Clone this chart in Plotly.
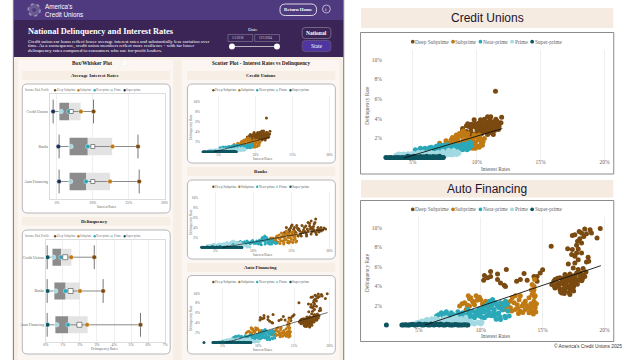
import plotly.graph_objects as go

# ---------- data ----------
CATEGORIES = ["Credit Unions", "Banks", "Auto Financing"]
TIERS = ["Deep Subprime", "Subprime", "Near-prime", "Prime", "Super-prime"]

RATE_DEEP = [10.1, 16.3, 16.47]
RATE_SUB = [8.33, 12.75, 12.4]
RATE_NEAR = [6.67, 9.3, 9.06]
RATE_PRIME = [5.57, 6.95, 6.9]
RATE_SUPER = [4.47, 5.2, 5.3]
RATE_Q1 = [5.34, 6.76, 6.76]
RATE_MED = [6.7, 9.3, 9.06]
RATE_Q3 = [8.3, 12.7, 12.4]
RATE_MEAN = [7.0, 10.0, 10.0]
RATE_LOW = [4.47, 5.3, 5.3]
RATE_HIGH = [10.1, 16.3, 16.47]

DELQ_DEEP = [2.84, 3.36, 5.55]
DELQ_SUB = [1.49, 2.0, 2.42]
DELQ_NEAR = [0.89, 1.16, 1.3]
DELQ_PRIME = [0.45, 0.58, 0.64]
DELQ_SUPER = [0.1, 0.1, 0.1]
DELQ_Q1 = [0.39, 0.5, 0.56]
DELQ_MED = [0.9, 1.16, 1.3]
DELQ_Q3 = [1.5, 2.0, 2.45]
DELQ_MEAN = [1.14, 1.45, 1.97]
DELQ_LOW = [0.08, 0.08, 0.08]
DELQ_HIGH = [2.84, 3.36, 5.55]

CU_DEEP_X = [8.9, 9.3, 9.8, 10.3, 10.85, 11.1, 11.95, 11.5, 11.9, 11.75, 11.4, 11.3, 10.85, 10.6, 10.1, 9.55, 9.2, 8.9, 9.4, 9.8, 10.2, 10.5, 10.7, 11.0, 11.2, 11.5, 11.35, 10.6, 10.15, 9.55, 9.2, 11.0, 10.6, 10.0, 11.1, 10.35, 11.7, 11.47,
             9.0, 9.35, 9.6, 9.9, 10.2, 10.4, 10.55, 10.8, 11.05, 11.3, 11.55, 11.7, 9.7, 10.0, 10.3, 10.7, 10.95, 11.25, 11.6, 9.95, 10.45, 10.9, 11.2, 9.5, 10.75]
CU_DEEP_Y = [3.0, 3.5, 3.9, 3.7, 4.2, 4.2, 4.15, 3.95, 3.6, 3.2, 2.8, 2.4, 2.4, 2.7, 2.7, 2.7, 2.7, 2.8, 3.2, 3.2, 3.3, 3.4, 3.55, 3.55, 3.4, 3.2, 3.7, 3.95, 3.55, 3.05, 3.3, 3.05, 3.05, 2.95, 2.7, 2.95, 3.6, 6.8,
             2.45, 2.3, 3.45, 3.5, 3.0, 2.5, 3.2, 3.2, 3.85, 3.0, 3.45, 2.9, 2.4, 3.4, 3.9, 3.75, 3.35, 3.15, 3.75, 2.5, 2.75, 2.7, 2.55, 2.35, 2.95]
CU_SUB_X = [7.1, 7.4, 7.25, 8.0, 7.75, 8.4, 8.5, 8.8, 8.9, 9.3, 9.45, 9.7, 10.1, 10.35, 10.6, 10.1, 9.7, 9.45, 9.0, 8.65, 9.8, 10.2, 9.3, 8.3, 8.0, 7.5, 9.2, 9.8, 8.5,
            7.9, 8.2, 8.6, 8.9, 9.1, 9.35, 9.6, 9.9, 10.2, 10.45, 8.1, 8.75, 9.55, 10.0, 10.3, 7.6, 8.45, 9.05, 9.75, 10.5, 8.95, 9.25, 9.9, 7.3, 8.25]
CU_SUB_Y = [1.5, 0.85, 1.3, 1.85, 1.5, 2.35, 1.85, 2.2, 1.7, 1.5, 1.0, 1.0, 1.2, 1.5, 2.0, 1.85, 1.7, 2.0, 2.35, 2.5, 2.35, 2.35, 2.5, 1.7, 1.45, 1.35, 1.2, 1.35, 1.35,
            1.3, 1.1, 1.55, 1.3, 1.9, 1.85, 1.4, 1.6, 1.1, 1.3, 2.1, 1.0, 1.1, 2.2, 2.0, 1.75, 2.15, 2.55, 2.1, 1.65, 2.75, 2.2, 1.0, 1.15, 2.0]
CU_NEAR_X = [5.2, 5.55, 5.95, 6.45, 6.85, 7.25, 7.6, 8.0, 8.4, 8.8, 9.2, 9.5, 9.3, 8.9, 8.5, 8.15, 6.2, 6.7, 7.1, 7.6, 8.25,
             5.4, 5.75, 6.1, 6.3, 6.6, 6.95, 7.05, 7.4, 7.7, 7.85, 8.1, 8.3, 8.55, 8.7, 9.0, 9.1, 9.4, 9.55, 9.25, 8.95, 8.65, 7.95, 7.45, 6.75, 6.05, 5.6, 9.45, 9.6, 8.85, 7.15]
CU_NEAR_Y = [0.85, 0.9, 1.0, 1.1, 1.2, 1.2, 1.0, 1.1, 1.1, 1.2, 1.45, 1.6, 1.0, 0.85, 0.85, 0.8, 0.85, 0.9, 0.85, 1.25, 1.35,
             0.75, 0.85, 0.9, 1.05, 1.0, 1.05, 1.3, 1.3, 1.35, 1.1, 0.95, 1.25, 1.15, 1.3, 1.0, 1.3, 1.2, 1.45, 0.85, 1.4, 1.0, 0.9, 0.9, 1.05, 0.8, 1.0, 1.05, 1.25, 1.1, 1.0]
CU_PRIME_X = [3.9, 4.3, 4.65, 5.05, 5.45, 5.8, 6.2, 6.6, 7.0, 7.35, 7.75, 8.15, 8.5, 8.3, 7.9, 7.35, 6.85, 6.35, 5.7, 5.05,
              4.1, 4.5, 4.85, 5.25, 5.6, 6.0, 6.4, 6.8, 7.2, 7.55, 7.95, 8.35, 8.6, 4.4, 4.95, 5.4, 5.95, 6.55, 7.1, 7.6, 8.1, 8.45, 3.7, 8.2, 7.8]
CU_PRIME_Y = [0.4, 0.4, 0.44, 0.5, 0.6, 0.6, 0.57, 0.5, 0.57, 0.68, 0.68, 0.68, 0.64, 0.44, 0.34, 0.34, 0.34, 0.3, 0.3, 0.27,
              0.35, 0.36, 0.4, 0.42, 0.45, 0.45, 0.44, 0.42, 0.45, 0.5, 0.5, 0.55, 0.5, 0.25, 0.25, 0.25, 0.28, 0.27, 0.25, 0.28, 0.3, 0.35, 0.32, 0.8, 0.8]
CU_SUPER_X = [2.9, 3.1, 3.3, 3.55, 3.8, 4.0, 4.25, 4.5, 4.75, 4.95, 5.2, 5.45, 5.7, 5.95, 6.2, 6.45, 6.7, 6.95, 7.2, 7.4, 4.6, 5.1, 5.6, 6.1, 6.6, 7.1,
              3.0, 3.2, 3.45, 3.65, 3.9, 4.15, 4.35, 4.6, 4.85, 5.05, 5.3, 5.55, 5.8, 6.05, 6.3, 6.55, 6.8, 7.05, 7.3, 4.85, 5.35, 5.85, 6.35, 6.85]
CU_SUPER_Y = [0.05, 0.03, 0.05, 0.03, 0.05, 0.03, 0.05, 0.03, 0.03, 0.05, 0.03, 0.05, 0.05, 0.03, 0.05, 0.03, 0.05, 0.03, 0.05, 0.05, 0.17, 0.17, 0.15, 0.17, 0.15, 0.17,
              0.0, 0.02, 0.0, 0.02, 0.0, 0.02, 0.0, 0.0, 0.02, 0.0, 0.02, 0.0, 0.0, 0.02, 0.0, 0.02, 0.0, 0.0, 0.02, 0.12, 0.12, 0.13, 0.12, 0.13]
CU_TREND_X = [4.3, 12.0]
CU_TREND_Y = [0.0, 3.0]

BANK_DEEP_X = [19.5, 18.9, 18.2, 17.6, 17.2, 18.0, 17.4, 16.7, 16.1, 18.5, 17.8, 17.2, 16.5, 15.9, 15.0, 14.35, 15.4, 14.8, 14.1, 15.4, 16.3, 18.2, 17.6, 17.0, 18.9, 15.7, 14.7, 15.9, 16.8, 17.9, 16.2, 14.5,
               14.6, 15.1, 15.6, 16.0, 16.4, 16.9, 17.4, 17.9, 18.4, 18.7, 15.3, 15.8, 16.6, 17.1, 17.7, 18.3, 14.9, 15.5, 16.2, 16.9, 17.5, 18.0, 18.6, 19.1, 19.3, 17.0, 17.6, 18.1, 16.4, 15.1]
BANK_DEEP_Y = [3.7, 3.3, 5.7, 5.3, 5.0, 4.7, 4.3, 4.0, 3.3, 4.0, 3.7, 3.3, 3.0, 2.3, 4.3, 4.0, 4.0, 3.3, 3.0, 3.3, 2.3, 3.0, 2.7, 2.3, 4.0, 4.4, 3.6, 3.6, 3.2, 3.3, 2.7, 2.6,
               2.9, 2.7, 3.0, 3.7, 4.4, 4.3, 4.8, 4.2, 3.5, 3.6, 3.6, 3.9, 3.5, 3.7, 3.2, 2.6, 3.9, 2.9, 2.6, 2.9, 3.7, 3.5, 3.1, 3.5, 3.9, 2.6, 4.0, 5.0, 3.0, 4.5]
BANK_SUB_X = [13.0, 13.5, 14.1, 14.8, 15.2, 15.7, 14.6, 14.0, 13.0, 12.6, 12.2, 14.35, 15.0, 15.6, 15.2, 13.9, 14.6, 15.0, 13.7, 13.4, 14.3, 15.5, 12.9,
              12.0, 12.4, 12.8, 13.2, 13.6, 13.9, 14.2, 14.5, 14.9, 15.3, 15.6, 15.4, 14.1, 13.3, 12.7, 13.1, 13.7, 14.4, 14.8, 15.1, 12.3, 13.5, 14.0, 14.7, 15.5, 13.8, 14.25, 14.55, 15.25, 12.95]
BANK_SUB_Y = [2.0, 1.7, 2.3, 2.0, 1.0, 1.3, 1.3, 1.0, 1.3, 1.9, 1.7, 3.3, 3.0, 2.7, 2.3, 2.7, 2.7, 1.7, 2.1, 2.5, 1.6, 1.8, 1.6,
              1.4, 1.1, 1.0, 1.1, 1.3, 1.35, 1.5, 1.0, 1.2, 1.5, 1.1, 2.1, 1.9, 1.9, 1.4, 2.3, 2.9, 3.0, 2.4, 2.5, 1.9, 0.8, 0.7, 0.9, 2.3, 2.2, 2.6, 2.0, 3.2, 1.0]
BANK_NEAR_X = [7.4, 8.3, 9.15, 9.8, 10.45, 11.1, 11.5, 11.75, 12.2, 12.8, 12.4, 11.55, 10.7, 9.9, 10.9, 11.9, 12.5, 8.8,
               7.0, 7.7, 7.95, 8.6, 8.85, 9.4, 9.6, 10.1, 10.3, 10.6, 10.8, 11.0, 11.3, 11.4, 11.65, 11.85, 12.05, 12.35, 12.6, 12.95, 13.1, 11.2, 10.95, 10.45, 10.15, 9.7, 9.3, 8.45, 8.0, 11.55, 11.95, 12.15, 11.05, 10.6, 9.05]
BANK_NEAR_Y = [0.7, 1.2, 1.3, 1.0, 1.3, 1.7, 2.3, 2.0, 1.3, 1.0, 0.7, 0.7, 0.7, 1.4, 1.1, 1.0, 1.5, 0.9,
               0.6, 0.85, 1.0, 1.0, 1.15, 0.95, 0.75, 1.05, 0.9, 0.95, 1.45, 1.25, 1.35, 1.9, 1.55, 1.65, 1.55, 1.0, 1.15, 0.8, 0.9, 2.0, 0.75, 0.85, 0.8, 1.15, 1.1, 0.8, 0.75, 1.2, 0.85, 0.7, 0.55, 1.15, 0.7]
BANK_PRIME_X = [4.8, 5.7, 6.55, 7.4, 8.3, 8.95, 9.4, 8.1, 7.0, 5.9, 4.8, 3.95, 6.2, 7.7, 8.7,
                4.2, 4.5, 5.0, 5.3, 5.5, 6.0, 6.3, 6.7, 7.0, 7.2, 7.6, 7.9, 8.1, 8.5, 8.8, 9.1, 9.55, 4.1, 4.6, 5.2, 5.7, 6.5, 7.3, 7.85, 8.45, 9.25, 7.55, 6.9, 8.2, 5.0]
BANK_PRIME_Y = [0.65, 0.65, 1.0, 1.3, 1.0, 0.33, 0.2, 0.2, 0.33, 0.2, 0.2, 0.33, 0.4, 0.6, 0.6,
                0.4, 0.5, 0.5, 0.55, 0.7, 0.75, 0.8, 0.7, 1.0, 1.15, 1.05, 0.95, 0.7, 0.7, 0.5, 0.3, 0.12, 0.15, 0.2, 0.15, 0.15, 0.15, 0.2, 0.15, 0.2, 0.1, 0.3, 0.5, 0.4, 0.3]
BANK_SUPER_X = [3.2, 3.45, 3.7, 3.95, 4.2, 4.45, 4.7, 4.95, 5.2, 5.45, 5.7, 5.95, 6.2, 6.45, 6.7, 6.95, 7.2, 7.45, 7.7, 7.95, 8.2, 8.45,
                3.3, 3.55, 3.8, 4.05, 4.3, 4.55, 4.8, 5.05, 5.3, 5.55, 5.8, 6.05, 6.3, 6.55, 6.8, 7.05, 7.3, 7.55, 7.8, 8.05, 8.3, 8.5, 4.6, 5.6, 6.6]
BANK_SUPER_Y = [0.05, 0.03, 0.05, 0.08, 0.05, 0.03, 0.08, 0.05, 0.1, 0.05, 0.08, 0.03, 0.05, 0.1, 0.05, 0.08, 0.03, 0.05, 0.08, 0.05, 0.03, 0.05,
                0.0, 0.02, 0.0, 0.0, 0.02, 0.0, 0.0, 0.02, 0.0, 0.0, 0.02, 0.0, 0.0, 0.02, 0.0, 0.0, 0.02, 0.0, 0.0, 0.02, 0.0, 0.0, 0.15, 0.15, 0.15]
BANK_TREND_X = [6.0, 19.3]
BANK_TREND_Y = [0.0, 3.6]

AUTO_DEEP_X = [19.65, 18.83, 18.4, 17.95, 17.6, 17.4, 18.14, 18.54, 18.94, 19.39, 18.32, 18.0, 17.82, 18.14, 17.74, 17.87, 17.4, 17.02, 15.69, 17.6, 18.14, 18.67, 18.54, 17.87, 17.6, 17.07, 17.47, 17.87, 18.27, 18.72, 17.74, 17.34,
               15.74, 16.0, 16.4, 16.8, 17.2, 17.6, 18.1, 18.5, 16.0, 16.4, 16.8, 17.2, 17.5, 17.07, 16.7, 16.3, 17.35, 16.95, 17.7, 18.0, 17.5, 17.2, 16.55, 17.07, 18.3,
               10.3, 10.24, 10.56, 10.8, 10.8, 11.36, 11.36, 11.6, 11.9, 12.0, 12.07, 12.9, 13.2, 13.5, 13.75, 14.3, 14.55, 14.8, 15.0, 14.55,
               15.9, 16.15, 16.3, 16.55, 16.7, 16.9, 17.1, 17.3, 17.45, 17.6, 17.8, 17.95, 18.2, 18.4, 16.2, 16.45, 16.65, 16.9, 17.15, 17.35, 17.55, 17.05, 16.85, 16.6, 17.25, 17.4, 17.75, 18.15, 15.95, 16.75]
AUTO_DEEP_Y = [9.93, 9.8, 9.86, 9.6, 9.28, 9.2, 9.45, 9.39, 9.45, 8.94, 9.11, 8.87, 8.6, 8.43, 8.19, 7.82, 7.75, 7.85, 8.09, 7.06, 7.41, 6.96, 6.48, 6.72, 6.38, 6.28, 5.87, 5.7, 5.8, 6.55, 7.4, 7.24,
               4.16, 4.68, 4.85, 5.2, 5.25, 5.1, 5.35, 5.46, 3.82, 3.65, 3.5, 3.14, 3.5, 4.0, 4.16, 4.33, 4.5, 4.68, 4.68, 5.0, 4.0, 3.65, 3.3, 4.85, 5.1,
               5.1, 4.6, 4.85, 5.5, 5.0, 5.25, 4.68, 4.33, 4.1, 3.96, 5.7, 4.5, 4.68, 5.3, 4.6, 5.0, 5.0, 5.35, 5.67, 4.5,
               4.5, 4.15, 3.95, 4.3, 4.8, 4.35, 4.55, 4.2, 3.8, 4.3, 4.2, 4.6, 4.7, 5.0, 4.8, 3.4, 3.7, 3.85, 3.35, 3.75, 4.75, 5.0, 3.9, 4.55, 4.85, 5.05, 5.35, 4.55, 4.0, 3.25]
AUTO_SUB_X = [8.3, 8.7, 9.0, 9.2, 9.63, 10.0, 10.4, 9.1, 9.5, 9.9, 8.83, 12.0, 12.4, 12.55, 12.8, 13.2, 12.95, 13.35, 13.6, 13.9, 14.15, 14.4, 14.3, 13.9, 14.15, 14.3, 14.15, 14.35, 12.8, 13.2, 14.4, 13.6, 12.4, 11.6, 9.35, 10.2,
              8.5, 9.1, 9.4, 9.7, 9.9, 10.15, 8.9, 12.2, 12.5, 12.7, 13.0, 13.1, 13.45, 13.7, 13.8, 14.0, 14.25, 14.45, 14.2, 14.05, 14.35, 14.5, 13.4, 13.05, 12.15, 11.8, 10.6, 14.25, 14.3, 14.1]
AUTO_SUB_Y = [1.95, 2.3, 3.0, 2.8, 3.0, 2.6, 2.46, 1.95, 2.1, 1.6, 1.6, 1.6, 1.77, 2.8, 3.0, 3.0, 2.1, 1.95, 1.6, 1.26, 1.43, 1.77, 2.46, 2.8, 3.14, 3.65, 4.16, 4.68, 1.6, 1.43, 3.0, 2.46, 2.46, 1.95, 2.45, 2.1,
              2.2, 2.7, 2.35, 2.55, 2.85, 2.2, 2.05, 2.0, 1.45, 2.3, 1.75, 2.6, 2.2, 2.0, 1.75, 1.7, 1.15, 1.35, 2.0, 2.2, 2.9, 2.2, 1.3, 1.2, 2.35, 2.2, 2.0, 3.4, 4.0, 3.6]
AUTO_NEAR_X = [6.44, 6.83, 7.23, 7.63, 8.16, 8.56, 8.96, 9.36, 9.76, 10.16, 10.7, 10.96, 11.2, 11.6, 12.0, 11.9, 11.5, 11.1, 10.7, 10.3, 9.9, 9.5, 11.1, 11.6, 12.0, 12.3, 7.9, 7.37, 10.4, 6.97, 8.96,
               6.6, 7.0, 7.5, 7.8, 8.3, 8.7, 9.1, 9.2, 9.55, 9.9, 10.05, 10.3, 10.55, 10.8, 10.95, 11.05, 11.35, 11.45, 11.75, 11.85, 12.15, 12.2, 11.3, 10.5, 10.1, 9.65, 9.3, 8.75, 8.35, 7.7, 10.85, 11.55, 11.95, 10.2, 9.0, 10.6, 11.25, 9.85, 8.1, 7.2]
AUTO_NEAR_Y = [0.92, 1.26, 1.37, 1.26, 1.37, 1.26, 1.1, 1.43, 1.26, 1.6, 2.46, 2.63, 2.3, 2.3, 2.46, 1.95, 1.77, 1.6, 1.26, 0.75, 0.92, 0.75, 0.92, 0.58, 0.75, 0.92, 0.92, 0.75, 1.95, 0.92, 1.6,
               1.05, 1.15, 1.05, 1.05, 1.15, 1.05, 1.3, 0.9, 1.0, 1.05, 1.3, 1.35, 1.55, 1.75, 2.1, 1.35, 1.95, 1.25, 1.55, 2.1, 2.15, 1.45, 1.1, 0.95, 0.8, 1.4, 0.85, 0.8, 0.9, 0.8, 0.95, 0.85, 0.9, 1.85, 0.75, 2.2, 0.6, 1.65, 1.0, 1.0]
AUTO_PRIME_X = [4.84, 5.24, 5.64, 6.04, 6.44, 6.83, 7.23, 7.63, 8.03, 8.43, 8.83, 9.23, 9.63, 10.03, 8.96, 8.3, 7.5, 6.7, 5.9, 5.37,
                5.0, 5.5, 5.8, 6.2, 6.6, 7.0, 7.4, 7.8, 8.15, 8.6, 9.05, 9.4, 9.8, 4.7, 5.1, 6.1, 6.9, 7.2, 7.75, 8.1, 8.65, 9.1, 9.5, 9.9, 6.35, 5.7, 7.05, 7.95, 8.8, 10.1]
AUTO_PRIME_Y = [0.24, 0.41, 0.58, 0.65, 0.5, 0.41, 0.75, 0.58, 0.82, 0.68, 0.58, 0.41, 0.24, 0.14, 0.24, 0.24, 0.24, 0.24, 0.24, 0.14,
                0.3, 0.45, 0.4, 0.4, 0.55, 0.55, 0.5, 0.7, 0.55, 0.5, 0.4, 0.2, 0.3, 0.12, 0.12, 0.12, 0.12, 0.35, 0.35, 0.4, 0.35, 0.15, 0.12, 0.2, 0.7, 0.55, 0.7, 0.6, 0.8, 0.3]
AUTO_SUPER_X = [2.39, 3.64, 3.9, 4.15, 4.4, 4.65, 4.9, 5.15, 5.4, 5.65, 5.9, 6.15, 6.4, 6.65, 6.9, 7.15, 7.4, 7.65, 7.9, 8.15, 8.4, 8.7, 8.96,
                3.75, 4.0, 4.25, 4.5, 4.75, 5.0, 5.25, 5.5, 5.75, 6.0, 6.25, 6.5, 6.75, 7.0, 7.25, 7.5, 7.75, 8.0, 8.25, 8.55, 8.85]
AUTO_SUPER_Y = [0.0, 0.0, 0.03, 0.0, 0.05, 0.0, 0.03, 0.08, 0.0, 0.05, 0.0, 0.03, 0.05, 0.0, 0.03, 0.0, 0.05, 0.0, 0.03, 0.0, 0.0, 0.03, 0.0,
                0.02, 0.0, 0.02, 0.08, 0.02, 0.1, 0.02, 0.08, 0.02, 0.1, 0.02, 0.08, 0.1, 0.02, 0.08, 0.02, 0.02, 0.05, 0.02, 0.02, 0.02]
AUTO_TREND_X = [5.5, 19.7]
AUTO_TREND_Y = [0.0, 6.1]

# ---------- styles ----------
W, H = 640, 360
C_DEEP, C_SUB, C_NEAR, C_PRIME, C_SUPER = "#7a4a10", "#c07a14", "#2aa8b8", "#a2d9e2", "#0c5561"
C_NAVY = "#1b2f56"
CREAM, PALE = "#f7eee6", "#fbf6f1"
SERIF, SANS = "Liberation Serif", "Liberation Sans"
COLORS = [C_DEEP, C_SUB, C_NEAR, C_PRIME, C_SUPER]

fig = go.Figure()
shapes, annots = [], []
px = lambda x: x / W
py = lambda y: 1 - y / H


def rect(x0, y0, x1, y1, fill, line=None, lw=1, r=0):
    if r:
        X0, X1, Y0, Y1 = px(x0), px(x1), py(y0), py(y1)
        rx, ry = r / W, r / H
        path = (f"M{X0+rx},{Y0} L{X1-rx},{Y0} Q{X1},{Y0} {X1},{Y0-ry} L{X1},{Y1+ry} Q{X1},{Y1} {X1-rx},{Y1} "
                f"L{X0+rx},{Y1} Q{X0},{Y1} {X0},{Y1+ry} L{X0},{Y0-ry} Q{X0},{Y0} {X0+rx},{Y0} Z")
        shapes.append(dict(type="path", path=path, xref="paper", yref="paper", fillcolor=fill,
                           line=dict(color=line or fill, width=lw if line else 0), layer="below"))
    else:
        shapes.append(dict(type="rect", x0=px(x0), x1=px(x1), y0=py(y0), y1=py(y1), xref="paper", yref="paper",
                           fillcolor=fill, line=dict(color=line or fill, width=lw if line else 0), layer="below"))


def text(x, y, s, size, color="#222", font=SERIF, anchor="center", angle=0, bold=False):
    if bold:
        s = f"<b>{s}</b>"
    annots.append(dict(x=px(x), y=py(y), xref="paper", yref="paper", text=s, showarrow=False, xanchor=anchor,
                       yanchor="middle", align=anchor, textangle=angle, font=dict(family=font, size=size, color=color),
                       borderpad=0, borderwidth=0))


def dot(x, y, d, color, line=None, lw=1):
    shapes.append(dict(type="circle", xref="paper", yref="paper", x0=px(x - d / 2), x1=px(x + d / 2),
                       y0=py(y + d / 2), y1=py(y - d / 2), fillcolor=color,
                       line=dict(color=line or color, width=lw if line else 0)))


def legend(y, xs, size, d, colors=COLORS, tcolor="#666"):
    for name, x, c in zip(TIERS, xs, colors):
        dot(x, y, d, c)
        text(x + d / 2 + 0.6, y, name, size, tcolor, anchor="left")


axis_n = [0]


def axes(L, R, T, B, xr, yr, xticks, yticks=None, tick_size=4.5, ycat=None, frame=False, standoff=0):
    axis_n[0] += 1
    n = axis_n[0]
    s = "" if n == 1 else str(n)
    xa = dict(domain=[px(L), px(R)], range=xr, anchor="y" + s, tickvals=xticks, ticktext=[f"{v}%" for v in xticks],
              tickfont=dict(family=SERIF, size=tick_size, color="#666"), showgrid=True, gridcolor="#efefef",
              gridwidth=0.6, zeroline=False, ticks="", ticklabelstandoff=standoff, fixedrange=True,
              showline=frame, linecolor="#dcdcdc", mirror=frame)
    ya = dict(domain=[py(B), py(T)], range=yr, anchor="x" + s, tickfont=dict(family=SERIF, size=tick_size, color="#666"),
              showgrid=False, zeroline=False, ticks="", fixedrange=True, showline=frame, linecolor="#dcdcdc", mirror=frame)
    if ycat:
        ya.update(type="category", categoryorder="array", categoryarray=ycat, autorange=False, range=[2.5, -0.5],
                  showgrid=False)
    else:
        ya.update(tickvals=yticks, ticktext=[f"{v}%" for v in yticks])
    fig.layout["xaxis" + s] = xa
    fig.layout["yaxis" + s] = ya
    return "x" + s, "y" + s


def scatter_chart(L, R, T, B, xr, yr, series, trend, msize, tick_size, show, standoff):
    xa, ya = axes(L, R, T, B, xr, yr, [5, 10, 15, 20], [2, 4, 6, 8, 10], tick_size, standoff=standoff)
    for name, c, (sx, sy) in zip(TIERS, COLORS, series):
        assert len(sx) == len(sy), name
        fig.add_trace(go.Scatter(x=sx, y=sy, mode="markers", name=name, xaxis=xa, yaxis=ya, showlegend=False,
                                 marker=dict(color=c, size=msize, line=dict(width=0))))
    fig.add_trace(go.Scatter(x=trend[0], y=trend[1], mode="lines", xaxis=xa, yaxis=ya, showlegend=False,
                             name="Trend", line=dict(color="#111", width=show)))


def box_chart(L, R, T, B, xr, xticks, q1, med, q3, low, high, mean, pts, super_color, msq):
    xa, ya = axes(L, R, T, B, xr, [2.5, -0.5], xticks, tick_size=3.8, ycat=CATEGORIES, frame=True, standoff=-1)
    fig.add_trace(go.Bar(y=CATEGORIES, x=[m - q for m, q in zip(med, q1)], base=q1, orientation="h", width=0.5,
                         marker=dict(color="#8c8c8c", line=dict(width=0)), xaxis=xa, yaxis=ya, showlegend=False))
    fig.add_trace(go.Bar(y=CATEGORIES, x=[q - m for q, m in zip(q3, med)], base=med, orientation="h", width=0.5,
                         marker=dict(color="#e3e3e3", line=dict(width=0)), xaxis=xa, yaxis=ya, showlegend=False))
    for i, cat in enumerate(CATEGORIES):
        fig.add_trace(go.Scatter(x=[low[i], high[i]], y=[cat, cat], mode="lines+markers", xaxis=xa, yaxis=ya,
                                 showlegend=False, line=dict(color="#8a8a8a", width=1),
                                 marker=dict(symbol="line-ns", size=17, line=dict(color="#777", width=1), color="#777")))
    colors = [C_DEEP, C_SUB, C_NEAR, C_PRIME, super_color]
    for name, c, vals in zip(TIERS, colors, pts):
        fig.add_trace(go.Scatter(x=vals, y=CATEGORIES, mode="markers", name=name, xaxis=xa, yaxis=ya, showlegend=False,
                                 marker=dict(color=c, size=4.6, line=dict(color="white", width=0.4))))
    fig.add_trace(go.Scatter(x=mean, y=CATEGORIES, mode="markers", name="Mean", xaxis=xa, yaxis=ya, showlegend=False,
                             marker=dict(symbol="square", color="white", size=msq, line=dict(color="#444", width=0.6))))


# ---------- left dashboard frame ----------
rect(10.5, -1, 344.5, 361, CREAM, "#5a5560", 0.8)
rect(11, 0, 344, 20, "#4f3a80")
rect(11, 20, 344, 57, "#3a2556")
rect(15, 60, 172, 360, PALE)
rect(181, 60, 340, 360, PALE)

# header
shapes.append(dict(type="circle", xref="paper", yref="paper", x0=px(25.5), x1=px(37.5), y0=py(16), y1=py(4),
                   fillcolor="#6a5a92", line=dict(color="#9c90b8", width=1.6, dash="dot")))
dot(31.5, 10, 4, "#4f3a80")
text(42, 10, "America's<br>Credit Unions", 6.3, "white", SANS, "left")
rect(280, 4, 317, 15.5, "#4f3a80", "white", 0.8, 5.5)
text(298.5, 9.8, "Return Home", 4.8, "white", bold=True)
dot(327, 9, 8, "#4f3a80", "white", 0.6)
text(327, 9, "i", 5, "white")
text(25, 31.5, "National Delinquency and Interest Rates", 8.4, "white", anchor="left", bold=True)
text(25, 41, "Credit union car loans reflect lower average interest rates and substantially less variation over", 4.85, "white", anchor="left")
text(25, 46, "time. As a consequence, credit union members reflect more resilience - with far lower", 4.85, "white", anchor="left")
text(25, 51, "delinquency rates compared to consumers who use for-profit lenders.", 4.85, "white", anchor="left")
text(253, 29, "Date", 5, "white")
rect(227.5, 34.5, 252.5, 41.5, "#3a2556", "#9a90aa", 0.5)
rect(254.5, 34.5, 279.5, 41.5, "#3a2556", "#9a90aa", 0.5)
text(238, 38, "1/1/2018", 3.2, "#ddd")
text(265, 38, "12/1/2024", 3.2, "#ddd")
shapes.append(dict(type="line", xref="paper", yref="paper", x0=px(231), x1=px(277), y0=py(46.5), y1=py(46.5),
                   line=dict(color="#ddd", width=0.8)))
dot(231.5, 46.5, 6, "white")
dot(277, 46.5, 6, "white")
rect(302.5, 27.5, 331.5, 38.5, "#3a2556", "#8c8398", 0.7, 3)
text(317, 33, "National", 5.5, "white", bold=True)
rect(302.5, 40.5, 331.5, 51.5, "#4f35a0", "#6a5c86", 0.7, 3)
text(317, 46, "State", 5.5, "white")

text(90, 62.5, "Box/Whisker Plot", 5.3, "#222", bold=True)
dot(123, 63, 7, "#fdfaf7", "#f0e8df", 0.5)
text(261, 63, "Scatter Plot - Interest Rates vs Delinquency", 5.3, "#222", bold=True)

for x0, x1, y0, y1, label in [(19, 169, 71, 80, "Average Interest Rates"), (19, 169, 217, 225.5, "Delinquency"),
                              (186, 336, 71, 80, "Credit Unions"), (186, 336, 167, 176, "Banks"),
                              (186, 336, 263, 272, "Auto Financing")]:
    rect(x0, y0, x1, y1, CREAM)
    text((x0 + x1) / 2 - 1, (y0 + y1) / 2, label, 4.9, "#222", bold=True)

for x0, y0, x1, y1 in [(19.5, 84, 169, 213), (19.5, 230, 169, 354), (186.5, 84, 336, 163), (186.5, 180, 336, 259),
                       (186.5, 275.5, 336, 354)]:
    rect(x0, y0, x1, y1, "white", "#9a98a0", 0.7, 5)

# box plots
for y in (90.3, 236.3):
    text(22, y, "Income Risk Profile", 3, "#777", anchor="left")
for y, sup in ((90.3, C_NAVY), (236.3, C_SUPER)):
    legend(y, [52.7, 76.3, 92.7, 110, 123], 3, 2.4, [C_DEEP, C_SUB, C_NEAR, C_PRIME, sup], "#777")
box_chart(47.3, 163.3, 94, 199, [4, 20], [5, 10, 15, 20], RATE_Q1, RATE_MED, RATE_Q3, RATE_LOW, RATE_HIGH, RATE_MEAN,
          [RATE_DEEP, RATE_SUB, RATE_NEAR, RATE_PRIME, RATE_SUPER], C_NAVY, 4)
box_chart(43.3, 164, 240.3, 341.7, [0, 7], [0, 1, 2, 3, 4, 5, 6, 7], DELQ_Q1, DELQ_MED, DELQ_Q3, DELQ_LOW, DELQ_HIGH,
          DELQ_MEAN, [DELQ_DEEP, DELQ_SUB, DELQ_NEAR, DELQ_PRIME, DELQ_SUPER], C_SUPER, 5)
text(105, 206.5, "Interest Rates", 3.5, "#666")
text(103, 348.5, "Delinquency Rates", 3.5, "#666")

# small scatter charts
CU = [(CU_DEEP_X, CU_DEEP_Y), (CU_SUB_X, CU_SUB_Y), (CU_NEAR_X, CU_NEAR_Y), (CU_PRIME_X, CU_PRIME_Y), (CU_SUPER_X, CU_SUPER_Y)]
BK = [(BANK_DEEP_X, BANK_DEEP_Y), (BANK_SUB_X, BANK_SUB_Y), (BANK_NEAR_X, BANK_NEAR_Y), (BANK_PRIME_X, BANK_PRIME_Y), (BANK_SUPER_X, BANK_SUPER_Y)]
AU = [(AUTO_DEEP_X, AUTO_DEEP_Y), (AUTO_SUB_X, AUTO_SUB_Y), (AUTO_NEAR_X, AUTO_NEAR_Y), (AUTO_PRIME_X, AUTO_PRIME_Y), (AUTO_SUPER_X, AUTO_SUPER_Y)]

scatter_chart(200, 332, 96, 153, [2.6, 20.25], [-0.2, 11.2], CU, (CU_TREND_X, CU_TREND_Y), 3, 3.5, 0.6, -2)
scatter_chart(198, 332, 192, 249, [2.84, 20.26], [-0.3, 11.1], BK, (BANK_TREND_X, BANK_TREND_Y), 3, 3.5, 0.6, -2)
scatter_chart(200, 332, 288, 344, [1.95, 20.23], [-0.3, 11.1], AU, (AUTO_TREND_X, AUTO_TREND_Y), 3, 3.5, 0.6, -2)
for y, ty, ay in ((90.3, 159.2, 127), (186.7, 254.7, 222), (282, 350.3, 318)):
    legend(y, [212.7, 239, 257, 277, 290.7], 3.5, 2.4)
    text(262.5, ty, "Interest Rates", 3.5, "#666")
    text(190, ay, "Delinquency Rate", 3.5, "#666", angle=-90)

# right column
for y0, y1, label in [(8, 28, "Credit Unions"), (180, 197.5, "Auto Financing")]:
    rect(362, y0, 617, y1, "#f5ebe0")
    text(489.5, (y0 + y1) / 2, label, 12, "#1c1430", SANS)
rect(361.5, 32.5, 617.5, 174, "white", "#6f6f72", 0.8)
rect(361.5, 200.5, 617.5, 341.5, "white", "#6f6f72", 0.8)
scatter_chart(384, 612, 50, 160, [2.66, 20.29], [-0.2, 11.0], CU, (CU_TREND_X, CU_TREND_Y), 5, 5.5, 0.9, -3)
scatter_chart(384, 612, 217, 328, [2.1, 20.3], [-0.3, 11.1], AU, (AUTO_TREND_X, AUTO_TREND_Y), 5, 5.5, 0.9, -3)
for y, ty, ay in ((41.7, 168.5, 104.7), (209.3, 335.5, 272)):
    legend(y, [414.3, 455, 482.7, 514.7, 535], 5.4, 3.8)
    text(497.7, ty, "Interest Rates", 5.3, "#555")
    text(368, ay, "Delinquency Rate", 5.3, "#666", angle=-90)
text(626, 346, "© America's Credit Unions 2025", 4.8, "#333", SANS, "right")

fig.update_layout(width=W, height=H, autosize=False, margin=dict(l=0, r=0, t=0, b=0), paper_bgcolor="white",
                  plot_bgcolor="rgba(0,0,0,0)", barmode="overlay", showlegend=False, shapes=shapes, annotations=annots,
                  hovermode=False)
fig.write_html("out.html", config={"displayModeBar": False},
               post_script="document.body.style.margin='0';document.body.style.overflow='hidden';")
